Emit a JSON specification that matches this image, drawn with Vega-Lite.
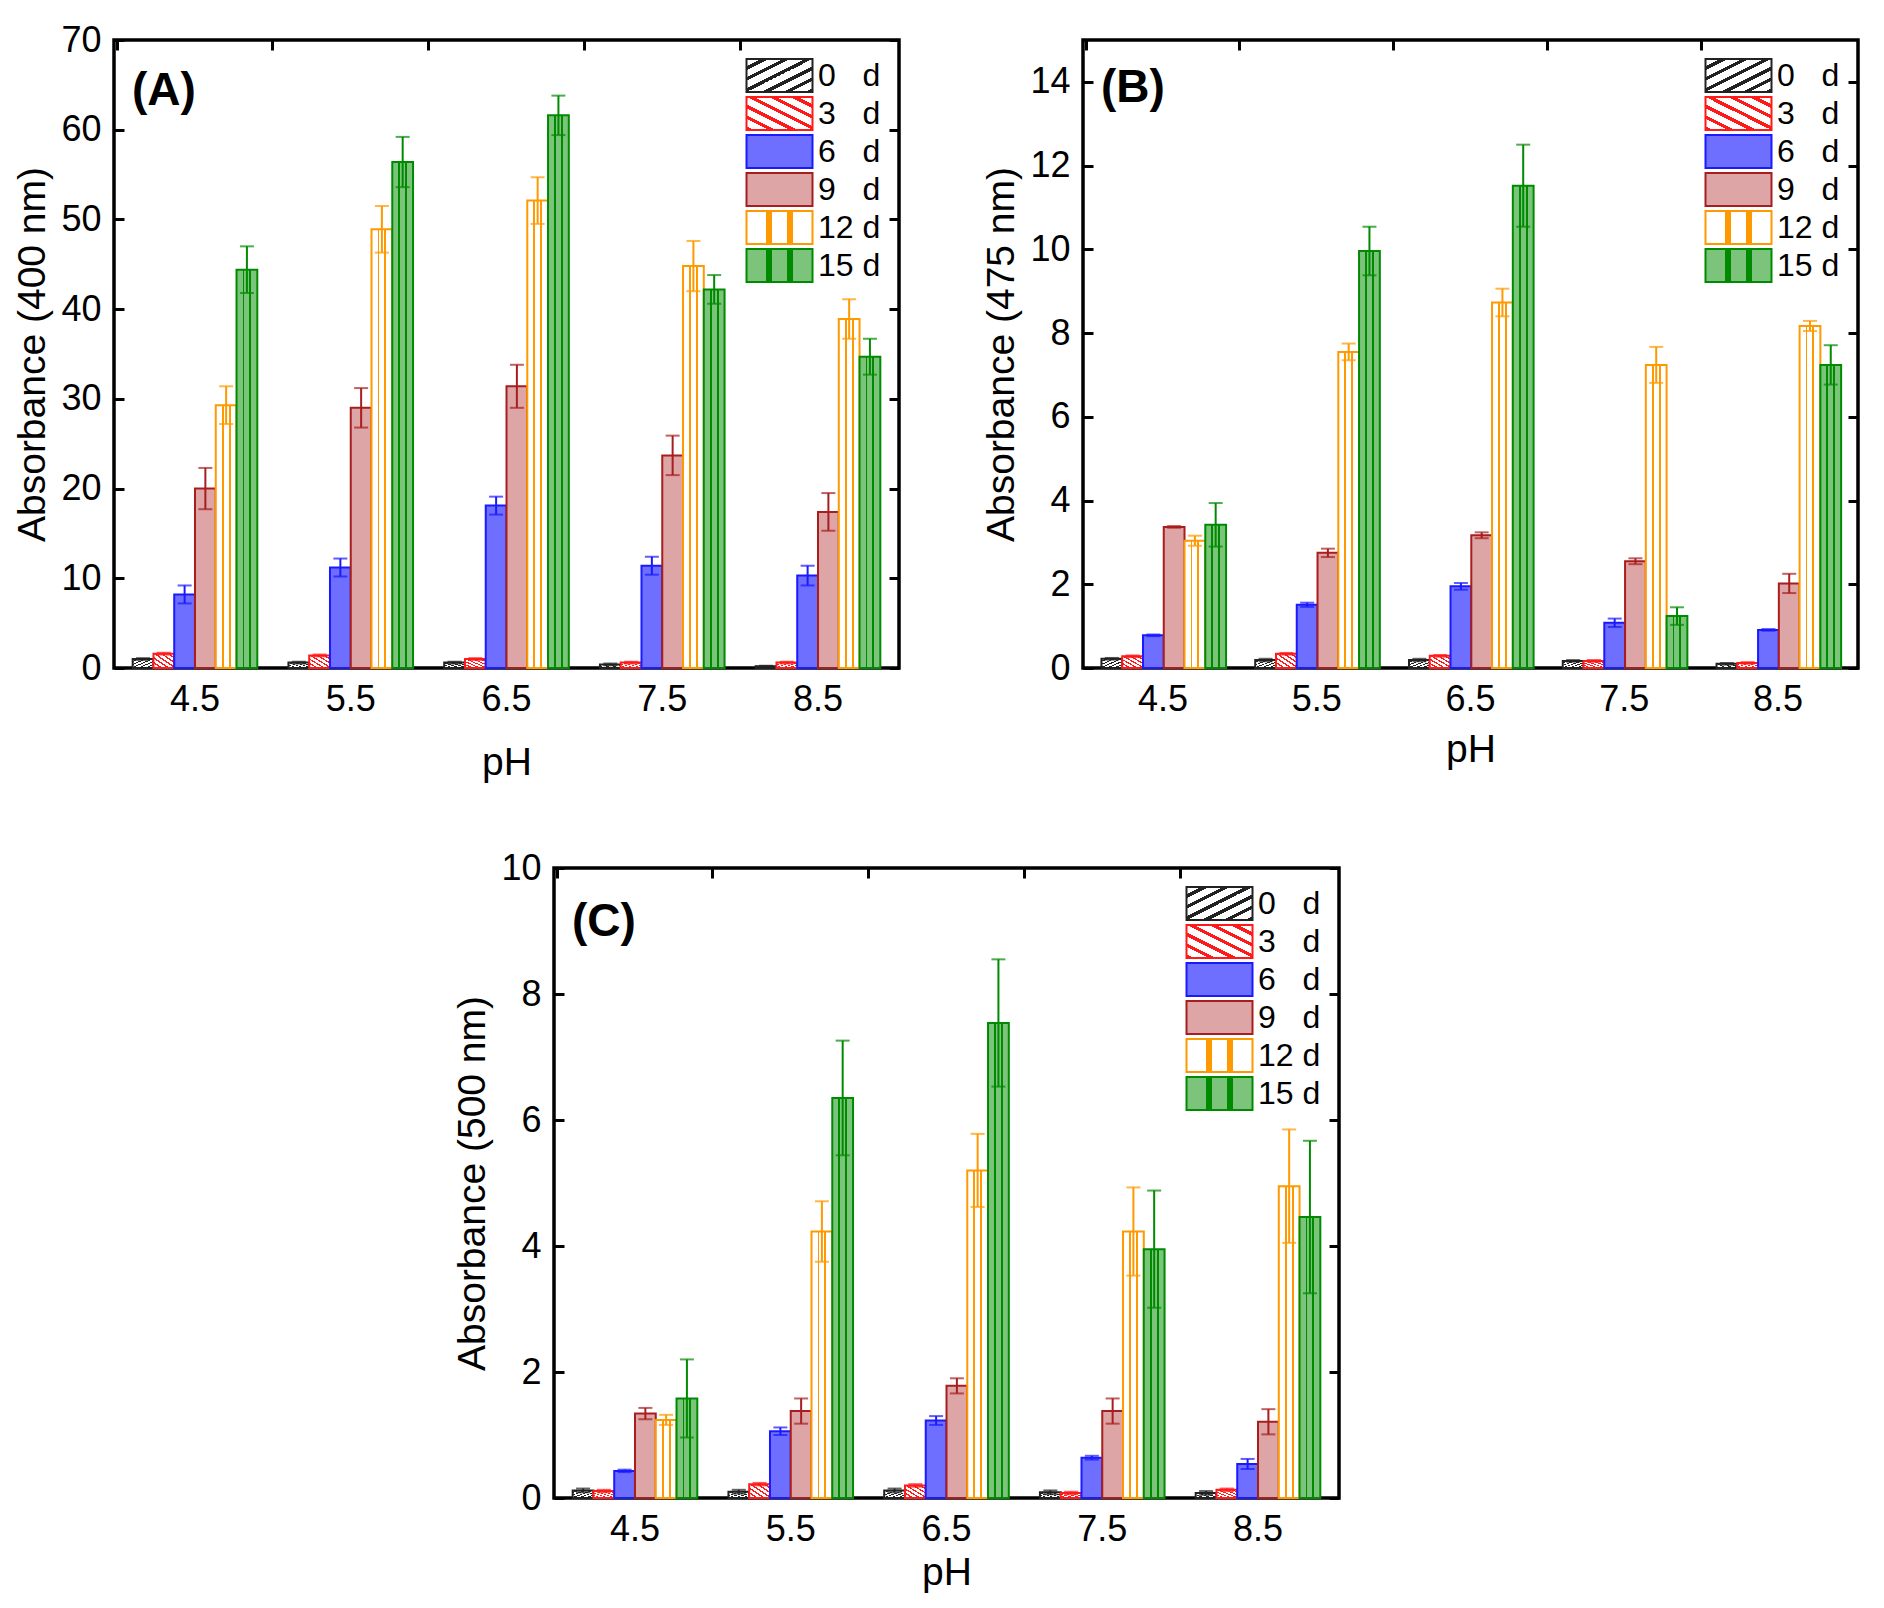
{
  "$schema": "https://vega.github.io/schema/vega-lite/v6.json",
  "background": "white",
  "padding": {"left": 12, "top": 20, "right": 10, "bottom": 10},
  "config": {
    "font": "Liberation Sans",
    "view": {"stroke": "black", "strokeWidth": 3.5},
    "axis": {
      "labelFont": "Liberation Sans", "titleFont": "Liberation Sans",
      "labelFontSize": 36, "titleFontSize": 39, "titleFontWeight": "normal",
      "labelColor": "black", "titleColor": "black", "tickColor": "black",
      "tickWidth": 3, "grid": false, "domain": false
    },
    "legend": {
      "orient": "top-right", "offset": 18, "title": null,
      "labelFont": "Liberation Sans", "labelFontSize": 32, "labelColor": "black",
      "symbolType": "M-2,-1H2V1H-2Z", "symbolSize": 1089, "symbolStrokeWidth": 2,
      "labelOffset": 21, "rowPadding": -4, "symbolOpacity": 1
    },
    "title": {"font": "Liberation Sans", "fontSize": 46, "fontWeight": "bold", "anchor": "start", "frame": "group", "color": "black", "offset": 0, "dx": 18, "baseline": "alphabetic"}
  },
  "datasets": {
    "a": [
      {"pH": "4.5", "day": "0 d", "v": 1.0, "e": 0.1},
      {"pH": "4.5", "day": "3 d", "v": 1.6, "e": 0.1},
      {"pH": "4.5", "day": "6 d", "v": 8.2, "e": 1.0},
      {"pH": "4.5", "day": "9 d", "v": 20.0, "e": 2.3},
      {"pH": "4.5", "day": "12 d", "v": 29.3, "e": 2.1},
      {"pH": "4.5", "day": "15 d", "v": 44.4, "e": 2.6},
      {"pH": "5.5", "day": "0 d", "v": 0.6, "e": 0.1},
      {"pH": "5.5", "day": "3 d", "v": 1.4, "e": 0.1},
      {"pH": "5.5", "day": "6 d", "v": 11.2, "e": 1.0},
      {"pH": "5.5", "day": "9 d", "v": 29.0, "e": 2.2},
      {"pH": "5.5", "day": "12 d", "v": 48.9, "e": 2.6},
      {"pH": "5.5", "day": "15 d", "v": 56.4, "e": 2.8},
      {"pH": "6.5", "day": "0 d", "v": 0.6, "e": 0.1},
      {"pH": "6.5", "day": "3 d", "v": 1.0, "e": 0.1},
      {"pH": "6.5", "day": "6 d", "v": 18.1, "e": 1.0},
      {"pH": "6.5", "day": "9 d", "v": 31.4, "e": 2.4},
      {"pH": "6.5", "day": "12 d", "v": 52.1, "e": 2.6},
      {"pH": "6.5", "day": "15 d", "v": 61.6, "e": 2.2},
      {"pH": "7.5", "day": "0 d", "v": 0.4, "e": 0.1},
      {"pH": "7.5", "day": "3 d", "v": 0.6, "e": 0.1},
      {"pH": "7.5", "day": "6 d", "v": 11.4, "e": 1.0},
      {"pH": "7.5", "day": "9 d", "v": 23.7, "e": 2.2},
      {"pH": "7.5", "day": "12 d", "v": 44.8, "e": 2.8},
      {"pH": "7.5", "day": "15 d", "v": 42.2, "e": 1.6},
      {"pH": "8.5", "day": "0 d", "v": 0.2, "e": 0.05},
      {"pH": "8.5", "day": "3 d", "v": 0.6, "e": 0.1},
      {"pH": "8.5", "day": "6 d", "v": 10.3, "e": 1.1},
      {"pH": "8.5", "day": "9 d", "v": 17.4, "e": 2.1},
      {"pH": "8.5", "day": "12 d", "v": 38.9, "e": 2.2},
      {"pH": "8.5", "day": "15 d", "v": 34.7, "e": 2.0}
    ],
    "b": [
      {"pH": "4.5", "day": "0 d", "v": 0.22, "e": 0.02},
      {"pH": "4.5", "day": "3 d", "v": 0.28, "e": 0.02},
      {"pH": "4.5", "day": "6 d", "v": 0.78, "e": 0.02},
      {"pH": "4.5", "day": "9 d", "v": 3.37, "e": 0.02},
      {"pH": "4.5", "day": "12 d", "v": 3.04, "e": 0.12},
      {"pH": "4.5", "day": "15 d", "v": 3.42, "e": 0.52},
      {"pH": "5.5", "day": "0 d", "v": 0.19, "e": 0.03},
      {"pH": "5.5", "day": "3 d", "v": 0.34, "e": 0.02},
      {"pH": "5.5", "day": "6 d", "v": 1.51, "e": 0.05},
      {"pH": "5.5", "day": "9 d", "v": 2.75, "e": 0.1},
      {"pH": "5.5", "day": "12 d", "v": 7.55, "e": 0.2},
      {"pH": "5.5", "day": "15 d", "v": 9.96, "e": 0.58},
      {"pH": "6.5", "day": "0 d", "v": 0.19, "e": 0.03},
      {"pH": "6.5", "day": "3 d", "v": 0.29, "e": 0.02},
      {"pH": "6.5", "day": "6 d", "v": 1.95, "e": 0.08},
      {"pH": "6.5", "day": "9 d", "v": 3.17, "e": 0.07},
      {"pH": "6.5", "day": "12 d", "v": 8.73, "e": 0.33},
      {"pH": "6.5", "day": "15 d", "v": 11.52, "e": 0.98},
      {"pH": "7.5", "day": "0 d", "v": 0.17, "e": 0.02},
      {"pH": "7.5", "day": "3 d", "v": 0.17, "e": 0.02},
      {"pH": "7.5", "day": "6 d", "v": 1.08, "e": 0.1},
      {"pH": "7.5", "day": "9 d", "v": 2.55, "e": 0.07},
      {"pH": "7.5", "day": "12 d", "v": 7.24, "e": 0.43},
      {"pH": "7.5", "day": "15 d", "v": 1.24, "e": 0.21},
      {"pH": "8.5", "day": "0 d", "v": 0.1, "e": 0.02},
      {"pH": "8.5", "day": "3 d", "v": 0.12, "e": 0.02},
      {"pH": "8.5", "day": "6 d", "v": 0.91, "e": 0.02},
      {"pH": "8.5", "day": "9 d", "v": 2.02, "e": 0.23},
      {"pH": "8.5", "day": "12 d", "v": 8.17, "e": 0.12},
      {"pH": "8.5", "day": "15 d", "v": 7.24, "e": 0.47}
    ],
    "c": [
      {"pH": "4.5", "day": "0 d", "v": 0.12, "e": 0.03},
      {"pH": "4.5", "day": "3 d", "v": 0.11, "e": 0.02},
      {"pH": "4.5", "day": "6 d", "v": 0.43, "e": 0.02},
      {"pH": "4.5", "day": "9 d", "v": 1.34, "e": 0.09},
      {"pH": "4.5", "day": "12 d", "v": 1.24, "e": 0.08},
      {"pH": "4.5", "day": "15 d", "v": 1.58, "e": 0.62},
      {"pH": "5.5", "day": "0 d", "v": 0.1, "e": 0.03},
      {"pH": "5.5", "day": "3 d", "v": 0.22, "e": 0.02},
      {"pH": "5.5", "day": "6 d", "v": 1.06, "e": 0.06},
      {"pH": "5.5", "day": "9 d", "v": 1.38, "e": 0.2},
      {"pH": "5.5", "day": "12 d", "v": 4.23, "e": 0.48},
      {"pH": "5.5", "day": "15 d", "v": 6.35, "e": 0.91},
      {"pH": "6.5", "day": "0 d", "v": 0.12, "e": 0.03},
      {"pH": "6.5", "day": "3 d", "v": 0.2, "e": 0.02},
      {"pH": "6.5", "day": "6 d", "v": 1.23, "e": 0.07},
      {"pH": "6.5", "day": "9 d", "v": 1.78, "e": 0.12},
      {"pH": "6.5", "day": "12 d", "v": 5.2, "e": 0.58},
      {"pH": "6.5", "day": "15 d", "v": 7.54, "e": 1.01},
      {"pH": "7.5", "day": "0 d", "v": 0.09, "e": 0.03},
      {"pH": "7.5", "day": "3 d", "v": 0.08, "e": 0.02},
      {"pH": "7.5", "day": "6 d", "v": 0.64, "e": 0.03},
      {"pH": "7.5", "day": "9 d", "v": 1.38, "e": 0.2},
      {"pH": "7.5", "day": "12 d", "v": 4.23, "e": 0.7},
      {"pH": "7.5", "day": "15 d", "v": 3.95, "e": 0.93},
      {"pH": "8.5", "day": "0 d", "v": 0.08, "e": 0.03},
      {"pH": "8.5", "day": "3 d", "v": 0.13, "e": 0.02},
      {"pH": "8.5", "day": "6 d", "v": 0.54, "e": 0.08},
      {"pH": "8.5", "day": "9 d", "v": 1.21, "e": 0.2},
      {"pH": "8.5", "day": "12 d", "v": 4.95, "e": 0.9},
      {"pH": "8.5", "day": "15 d", "v": 4.46, "e": 1.21}
    ]
  },
  "resolve": {
    "scale": {"fill": "independent", "stroke": "independent", "color": "independent"},
    "legend": {"fill": "independent", "stroke": "independent"}
  },
  "spacing": 64,
  "vconcat": [
    {
      "spacing": 78,
      "resolve": {
        "scale": {"fill": "independent", "stroke": "independent", "color": "independent"},
        "legend": {"fill": "independent", "stroke": "independent"}
      },
      "hconcat": [
        {
          "width": 785, "height": 628,
          "data": {"name": "a"},
          "title": {"text": "(A)", "dy": 97},
          "resolve": {"axis": {"x": "independent", "y": "independent"}},
          "layer": [
            {
              "mark": {"type": "bar", "strokeWidth": 2},
              "encoding": {
                "x": {"field": "pH", "type": "nominal", "sort": null, "scale": {"paddingInner": 0.2, "paddingOuter": 0.12},
                      "axis": {"orient": "bottom", "title": "pH", "labelAngle": 0, "tickSize": -10, "labelPadding": 24, "titlePadding": 26}},
                "xOffset": {"field": "day", "type": "nominal", "scale": {"domain": ["0 d", "3 d", "6 d", "9 d", "12 d", "15 d"], "paddingInner": 0}},
                "y": {"field": "v", "type": "quantitative", "scale": {"domain": [0, 70], "nice": false},
                      "axis": {"title": "Absorbance (400 nm)", "values": [0, 10, 20, 30, 40, 50, 60, 70], "tickSize": -10, "labelPadding": 23, "titlePadding": 8}},
                "fill": {"field": "day", "type": "nominal", "scale": {"domain": ["0 d", "3 d", "6 d", "9 d", "12 d", "15 d"], "range": [
                  {"expr": "{gradient:'linear',x1:0,y1:0,x2:1,y2:1,stops:[{offset:0,color:'#fff'},{offset:0.108,color:'#fff'},{offset:0.108,color:'#222'},{offset:0.167,color:'#222'},{offset:0.167,color:'#fff'},{offset:0.275,color:'#fff'},{offset:0.275,color:'#222'},{offset:0.333,color:'#222'},{offset:0.333,color:'#fff'},{offset:0.442,color:'#fff'},{offset:0.442,color:'#222'},{offset:0.5,color:'#222'},{offset:0.5,color:'#fff'},{offset:0.608,color:'#fff'},{offset:0.608,color:'#222'},{offset:0.667,color:'#222'},{offset:0.667,color:'#fff'},{offset:0.775,color:'#fff'},{offset:0.775,color:'#222'},{offset:0.833,color:'#222'},{offset:0.833,color:'#fff'},{offset:0.942,color:'#fff'},{offset:0.942,color:'#222'},{offset:1,color:'#222'}]}"},
                  {"expr": "{gradient:'linear',x1:1,y1:0,x2:0,y2:1,stops:[{offset:0,color:'#fff'},{offset:0.108,color:'#fff'},{offset:0.108,color:'#ff1a1a'},{offset:0.167,color:'#ff1a1a'},{offset:0.167,color:'#fff'},{offset:0.275,color:'#fff'},{offset:0.275,color:'#ff1a1a'},{offset:0.333,color:'#ff1a1a'},{offset:0.333,color:'#fff'},{offset:0.442,color:'#fff'},{offset:0.442,color:'#ff1a1a'},{offset:0.5,color:'#ff1a1a'},{offset:0.5,color:'#fff'},{offset:0.608,color:'#fff'},{offset:0.608,color:'#ff1a1a'},{offset:0.667,color:'#ff1a1a'},{offset:0.667,color:'#fff'},{offset:0.775,color:'#fff'},{offset:0.775,color:'#ff1a1a'},{offset:0.833,color:'#ff1a1a'},{offset:0.833,color:'#fff'},{offset:0.942,color:'#fff'},{offset:0.942,color:'#ff1a1a'},{offset:1,color:'#ff1a1a'}]}"},
                  "#6f6fff",
                  "#dda5a5",
                  {"expr": "{gradient:'linear',x1:0,y1:0,x2:1,y2:0,stops:[{offset:0,color:'#fff'},{offset:0.29,color:'#fff'},{offset:0.29,color:'#ff9900'},{offset:0.38,color:'#ff9900'},{offset:0.38,color:'#fff'},{offset:0.62,color:'#fff'},{offset:0.62,color:'#ff9900'},{offset:0.71,color:'#ff9900'},{offset:0.71,color:'#fff'},{offset:1,color:'#fff'}]}"},
                  {"expr": "{gradient:'linear',x1:0,y1:0,x2:1,y2:0,stops:[{offset:0,color:'#7cc47c'},{offset:0.29,color:'#7cc47c'},{offset:0.29,color:'#008a00'},{offset:0.38,color:'#008a00'},{offset:0.38,color:'#7cc47c'},{offset:0.62,color:'#7cc47c'},{offset:0.62,color:'#008a00'},{offset:0.71,color:'#008a00'},{offset:0.71,color:'#7cc47c'},{offset:1,color:'#7cc47c'}]}"}
                ]}, "legend": {"title": null, "labelExpr": "length(datum.label) < 4 ? replace(datum.label, ' ', '\u2007 ') : datum.label"}},
                "stroke": {"field": "day", "type": "nominal", "scale": {"domain": ["0 d", "3 d", "6 d", "9 d", "12 d", "15 d"], "range": ["#222222", "#ff1a1a", "#1a1aff", "#a81e1e", "#ff9900", "#008a00"]}, "legend": {"title": null, "labelExpr": "length(datum.label) < 4 ? replace(datum.label, ' ', '\u2007 ') : datum.label"}}
              }
            },
            {
              "mark": {"type": "errorbar", "ticks": {"size": 14, "thickness": 2}, "rule": {"strokeWidth": 2}},
              "encoding": {
                "x": {"field": "pH", "type": "nominal", "sort": null,
                      "axis": {"orient": "top", "title": null, "labels": false, "tickSize": -10, "bandPosition": -0.125}},
                "xOffset": {"field": "day", "type": "nominal"},
                "y": {"field": "v", "type": "quantitative",
                      "axis": {"orient": "right", "title": null, "labels": false, "tickSize": -10, "values": [0, 10, 20, 30, 40, 50, 60, 70]}},
                "yError": {"field": "e"},
                "color": {"field": "day", "type": "nominal", "scale": {"domain": ["0 d", "3 d", "6 d", "9 d", "12 d", "15 d"], "range": ["#222222", "#ff1a1a", "#1a1aff", "#a81e1e", "#ff9900", "#008a00"]}, "legend": null}
              }
            }
          ]
        },
        {
          "width": 775, "height": 628,
          "data": {"name": "b"},
          "title": {"text": "(B)", "dy": 77},
          "resolve": {"axis": {"x": "independent", "y": "independent"}},
          "layer": [
            {
              "mark": {"type": "bar", "strokeWidth": 2},
              "encoding": {
                "x": {"field": "pH", "type": "nominal", "sort": null, "scale": {"paddingInner": 0.2, "paddingOuter": 0.12},
                      "axis": {"orient": "bottom", "title": "pH", "labelAngle": 0, "tickSize": -10, "labelPadding": 24, "titlePadding": 13}},
                "xOffset": {"field": "day", "type": "nominal", "scale": {"domain": ["0 d", "3 d", "6 d", "9 d", "12 d", "15 d"], "paddingInner": 0}},
                "y": {"field": "v", "type": "quantitative", "scale": {"domain": [0, 15], "nice": false},
                      "axis": {"title": "Absorbance (475 nm)", "values": [0, 2, 4, 6, 8, 10, 12, 14], "tickSize": -10, "labelPadding": 23, "titlePadding": 8}},
                "fill": {"field": "day", "type": "nominal", "scale": {"domain": ["0 d", "3 d", "6 d", "9 d", "12 d", "15 d"], "range": [
                  {"expr": "{gradient:'linear',x1:0,y1:0,x2:1,y2:1,stops:[{offset:0,color:'#fff'},{offset:0.108,color:'#fff'},{offset:0.108,color:'#222'},{offset:0.167,color:'#222'},{offset:0.167,color:'#fff'},{offset:0.275,color:'#fff'},{offset:0.275,color:'#222'},{offset:0.333,color:'#222'},{offset:0.333,color:'#fff'},{offset:0.442,color:'#fff'},{offset:0.442,color:'#222'},{offset:0.5,color:'#222'},{offset:0.5,color:'#fff'},{offset:0.608,color:'#fff'},{offset:0.608,color:'#222'},{offset:0.667,color:'#222'},{offset:0.667,color:'#fff'},{offset:0.775,color:'#fff'},{offset:0.775,color:'#222'},{offset:0.833,color:'#222'},{offset:0.833,color:'#fff'},{offset:0.942,color:'#fff'},{offset:0.942,color:'#222'},{offset:1,color:'#222'}]}"},
                  {"expr": "{gradient:'linear',x1:1,y1:0,x2:0,y2:1,stops:[{offset:0,color:'#fff'},{offset:0.108,color:'#fff'},{offset:0.108,color:'#ff1a1a'},{offset:0.167,color:'#ff1a1a'},{offset:0.167,color:'#fff'},{offset:0.275,color:'#fff'},{offset:0.275,color:'#ff1a1a'},{offset:0.333,color:'#ff1a1a'},{offset:0.333,color:'#fff'},{offset:0.442,color:'#fff'},{offset:0.442,color:'#ff1a1a'},{offset:0.5,color:'#ff1a1a'},{offset:0.5,color:'#fff'},{offset:0.608,color:'#fff'},{offset:0.608,color:'#ff1a1a'},{offset:0.667,color:'#ff1a1a'},{offset:0.667,color:'#fff'},{offset:0.775,color:'#fff'},{offset:0.775,color:'#ff1a1a'},{offset:0.833,color:'#ff1a1a'},{offset:0.833,color:'#fff'},{offset:0.942,color:'#fff'},{offset:0.942,color:'#ff1a1a'},{offset:1,color:'#ff1a1a'}]}"},
                  "#6f6fff",
                  "#dda5a5",
                  {"expr": "{gradient:'linear',x1:0,y1:0,x2:1,y2:0,stops:[{offset:0,color:'#fff'},{offset:0.29,color:'#fff'},{offset:0.29,color:'#ff9900'},{offset:0.38,color:'#ff9900'},{offset:0.38,color:'#fff'},{offset:0.62,color:'#fff'},{offset:0.62,color:'#ff9900'},{offset:0.71,color:'#ff9900'},{offset:0.71,color:'#fff'},{offset:1,color:'#fff'}]}"},
                  {"expr": "{gradient:'linear',x1:0,y1:0,x2:1,y2:0,stops:[{offset:0,color:'#7cc47c'},{offset:0.29,color:'#7cc47c'},{offset:0.29,color:'#008a00'},{offset:0.38,color:'#008a00'},{offset:0.38,color:'#7cc47c'},{offset:0.62,color:'#7cc47c'},{offset:0.62,color:'#008a00'},{offset:0.71,color:'#008a00'},{offset:0.71,color:'#7cc47c'},{offset:1,color:'#7cc47c'}]}"}
                ]}, "legend": {"title": null, "labelExpr": "length(datum.label) < 4 ? replace(datum.label, ' ', '\u2007 ') : datum.label"}},
                "stroke": {"field": "day", "type": "nominal", "scale": {"domain": ["0 d", "3 d", "6 d", "9 d", "12 d", "15 d"], "range": ["#222222", "#ff1a1a", "#1a1aff", "#a81e1e", "#ff9900", "#008a00"]}, "legend": {"title": null, "labelExpr": "length(datum.label) < 4 ? replace(datum.label, ' ', '\u2007 ') : datum.label"}}
              }
            },
            {
              "mark": {"type": "errorbar", "ticks": {"size": 14, "thickness": 2}, "rule": {"strokeWidth": 2}},
              "encoding": {
                "x": {"field": "pH", "type": "nominal", "sort": null,
                      "axis": {"orient": "top", "title": null, "labels": false, "tickSize": -10, "bandPosition": -0.125}},
                "xOffset": {"field": "day", "type": "nominal"},
                "y": {"field": "v", "type": "quantitative",
                      "axis": {"orient": "right", "title": null, "labels": false, "tickSize": -10, "values": [0, 2, 4, 6, 8, 10, 12, 14]}},
                "yError": {"field": "e"},
                "color": {"field": "day", "type": "nominal", "scale": {"domain": ["0 d", "3 d", "6 d", "9 d", "12 d", "15 d"], "range": ["#222222", "#ff1a1a", "#1a1aff", "#a81e1e", "#ff9900", "#008a00"]}, "legend": null}
              }
            }
          ]
        }
      ]
    },
    {
      "spacing": 0,
      "resolve": {
        "scale": {"fill": "independent", "stroke": "independent", "color": "independent"},
        "legend": {"fill": "independent", "stroke": "independent"}
      },
      "hconcat": [
        {
          "width": 338, "height": 10,
          "view": {"stroke": null},
          "data": {"values": []},
          "mark": "point",
          "encoding": {}
        },
        {
          "width": 785, "height": 630,
          "data": {"name": "c"},
          "title": {"text": "(C)", "dy": 100},
          "resolve": {"axis": {"x": "independent", "y": "independent"}},
          "layer": [
            {
              "mark": {"type": "bar", "strokeWidth": 2},
              "encoding": {
                "x": {"field": "pH", "type": "nominal", "sort": null, "scale": {"paddingInner": 0.2, "paddingOuter": 0.12},
                      "axis": {"orient": "bottom", "title": "pH", "labelAngle": 0, "tickSize": -10, "labelPadding": 24, "titlePadding": 6}},
                "xOffset": {"field": "day", "type": "nominal", "scale": {"domain": ["0 d", "3 d", "6 d", "9 d", "12 d", "15 d"], "paddingInner": 0}},
                "y": {"field": "v", "type": "quantitative", "scale": {"domain": [0, 10], "nice": false},
                      "axis": {"title": "Absorbance (500 nm)", "values": [0, 2, 4, 6, 8, 10], "tickSize": -10, "labelPadding": 23, "titlePadding": 8}},
                "fill": {"field": "day", "type": "nominal", "scale": {"domain": ["0 d", "3 d", "6 d", "9 d", "12 d", "15 d"], "range": [
                  {"expr": "{gradient:'linear',x1:0,y1:0,x2:1,y2:1,stops:[{offset:0,color:'#fff'},{offset:0.108,color:'#fff'},{offset:0.108,color:'#222'},{offset:0.167,color:'#222'},{offset:0.167,color:'#fff'},{offset:0.275,color:'#fff'},{offset:0.275,color:'#222'},{offset:0.333,color:'#222'},{offset:0.333,color:'#fff'},{offset:0.442,color:'#fff'},{offset:0.442,color:'#222'},{offset:0.5,color:'#222'},{offset:0.5,color:'#fff'},{offset:0.608,color:'#fff'},{offset:0.608,color:'#222'},{offset:0.667,color:'#222'},{offset:0.667,color:'#fff'},{offset:0.775,color:'#fff'},{offset:0.775,color:'#222'},{offset:0.833,color:'#222'},{offset:0.833,color:'#fff'},{offset:0.942,color:'#fff'},{offset:0.942,color:'#222'},{offset:1,color:'#222'}]}"},
                  {"expr": "{gradient:'linear',x1:1,y1:0,x2:0,y2:1,stops:[{offset:0,color:'#fff'},{offset:0.108,color:'#fff'},{offset:0.108,color:'#ff1a1a'},{offset:0.167,color:'#ff1a1a'},{offset:0.167,color:'#fff'},{offset:0.275,color:'#fff'},{offset:0.275,color:'#ff1a1a'},{offset:0.333,color:'#ff1a1a'},{offset:0.333,color:'#fff'},{offset:0.442,color:'#fff'},{offset:0.442,color:'#ff1a1a'},{offset:0.5,color:'#ff1a1a'},{offset:0.5,color:'#fff'},{offset:0.608,color:'#fff'},{offset:0.608,color:'#ff1a1a'},{offset:0.667,color:'#ff1a1a'},{offset:0.667,color:'#fff'},{offset:0.775,color:'#fff'},{offset:0.775,color:'#ff1a1a'},{offset:0.833,color:'#ff1a1a'},{offset:0.833,color:'#fff'},{offset:0.942,color:'#fff'},{offset:0.942,color:'#ff1a1a'},{offset:1,color:'#ff1a1a'}]}"},
                  "#6f6fff",
                  "#dda5a5",
                  {"expr": "{gradient:'linear',x1:0,y1:0,x2:1,y2:0,stops:[{offset:0,color:'#fff'},{offset:0.29,color:'#fff'},{offset:0.29,color:'#ff9900'},{offset:0.38,color:'#ff9900'},{offset:0.38,color:'#fff'},{offset:0.62,color:'#fff'},{offset:0.62,color:'#ff9900'},{offset:0.71,color:'#ff9900'},{offset:0.71,color:'#fff'},{offset:1,color:'#fff'}]}"},
                  {"expr": "{gradient:'linear',x1:0,y1:0,x2:1,y2:0,stops:[{offset:0,color:'#7cc47c'},{offset:0.29,color:'#7cc47c'},{offset:0.29,color:'#008a00'},{offset:0.38,color:'#008a00'},{offset:0.38,color:'#7cc47c'},{offset:0.62,color:'#7cc47c'},{offset:0.62,color:'#008a00'},{offset:0.71,color:'#008a00'},{offset:0.71,color:'#7cc47c'},{offset:1,color:'#7cc47c'}]}"}
                ]}, "legend": {"title": null, "labelExpr": "length(datum.label) < 4 ? replace(datum.label, ' ', '\u2007 ') : datum.label"}},
                "stroke": {"field": "day", "type": "nominal", "scale": {"domain": ["0 d", "3 d", "6 d", "9 d", "12 d", "15 d"], "range": ["#222222", "#ff1a1a", "#1a1aff", "#a81e1e", "#ff9900", "#008a00"]}, "legend": {"title": null, "labelExpr": "length(datum.label) < 4 ? replace(datum.label, ' ', '\u2007 ') : datum.label"}}
              }
            },
            {
              "mark": {"type": "errorbar", "ticks": {"size": 14, "thickness": 2}, "rule": {"strokeWidth": 2}},
              "encoding": {
                "x": {"field": "pH", "type": "nominal", "sort": null,
                      "axis": {"orient": "top", "title": null, "labels": false, "tickSize": -10, "bandPosition": -0.125}},
                "xOffset": {"field": "day", "type": "nominal"},
                "y": {"field": "v", "type": "quantitative",
                      "axis": {"orient": "right", "title": null, "labels": false, "tickSize": -10, "values": [0, 2, 4, 6, 8, 10]}},
                "yError": {"field": "e"},
                "color": {"field": "day", "type": "nominal", "scale": {"domain": ["0 d", "3 d", "6 d", "9 d", "12 d", "15 d"], "range": ["#222222", "#ff1a1a", "#1a1aff", "#a81e1e", "#ff9900", "#008a00"]}, "legend": null}
              }
            }
          ]
        }
      ]
    }
  ]
}
